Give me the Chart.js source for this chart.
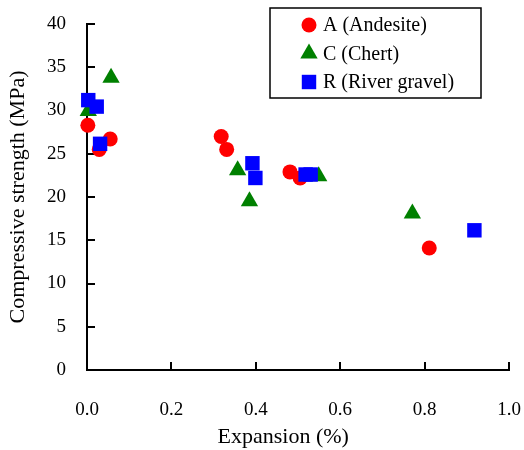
<!DOCTYPE html>
<html>
<head>
<meta charset="utf-8">
<script src="https://cdn.jsdelivr.net/npm/chart.js@4.4.0/dist/chart.umd.min.js"></script>
<style>
  html, body { margin: 0; padding: 0; background: #fff; }
</style>
</head>
<body>
<canvas id="chart" width="524" height="450"></canvas>
<script>
// ----- data -----
const seriesLabels = ['A (Andesite)', 'C (Chert)', 'R (River gravel)'];

const andesiteX = [0.002, 0.029, 0.055, 0.318, 0.331, 0.481, 0.505, 0.811];
const andesiteY = [28.3, 25.5, 26.7, 27.0, 25.5, 22.9, 22.2, 14.1];

const chertX = [0.003, 0.057, 0.357, 0.385, 0.549, 0.771];
const chertY = [29.95, 33.8, 23.1, 19.5, 22.4, 18.1];

const gravelX = [0.003, 0.023, 0.031, 0.392, 0.399, 0.518, 0.530, 0.918];
const gravelY = [31.2, 30.45, 26.15, 23.9, 22.2, 22.6, 22.6, 16.15];

const xTicks = [0, 0.2, 0.4, 0.6, 0.8, 1.0];
const yTicks = [0, 5, 10, 15, 20, 25, 30, 35, 40];

const xTitle = 'Expansion (%)';
const yTitle = 'Compressive strength (MPa)';

const FONT_FAMILY = '"Liberation Serif", "Times New Roman", serif';
const zip = (xs, ys) => xs.map((x, i) => ({ x, y: ys[i] }));

// boxed legend inside the plot + x-axis title (sits a bit left of centre in the original)
const boxLegend = {
  id: 'boxLegend',
  afterDraw(chart, args, opts) {
    const { ctx } = chart;
    ctx.save();
    ctx.strokeStyle = '#000';
    ctx.lineWidth = 1.5;
    ctx.strokeRect(opts.left, opts.top, opts.width, opts.height);
    ctx.font = `${opts.fontSize}px ${FONT_FAMILY}`;
    ctx.textBaseline = 'middle';
    ctx.textAlign = 'left';
    chart.data.datasets.forEach((ds, i) => {
      const y = opts.top + opts.firstRow + i * opts.rowGap;
      ctx.fillStyle = ds.backgroundColor;
      Chart.helpers.drawPoint(ctx, {
        pointStyle: ds.pointStyle, radius: ds.pointRadius, rotation: 0, borderWidth: 0
      }, opts.left + opts.markerX, y);
      ctx.fillStyle = '#000';
      ctx.fillText(ds.label, opts.left + opts.textX, y + 1);
    });

    // x title
    const xs = chart.scales.x;
    ctx.font = `22px ${FONT_FAMILY}`;
    ctx.textAlign = 'center';
    ctx.fillText(xTitle, xs.left + opts.xTitleCenter * xs.width, xs.bottom - 13);
    ctx.restore();
  }
};

const ds = (label, data, color, style, r, order) => ({
  label, data,
  backgroundColor: color,
  borderColor: color,
  borderWidth: 0,
  pointStyle: style,
  pointRadius: r,
  pointHoverRadius: r,
  clip: false,
  order
});

new Chart(document.getElementById('chart'), {
  type: 'scatter',
  data: {
    datasets: [
      ds(seriesLabels[0], zip(andesiteX, andesiteY), '#FF0000', 'circle', 7.5, 3),
      ds(seriesLabels[1], zip(chertX, chertY), '#008000', 'triangle', 10, 2),
      ds(seriesLabels[2], zip(gravelX, gravelY), '#0000FF', 'rect', 10.2, 1)
    ]
  },
  options: {
    responsive: false,
    animation: false,
    layout: { autoPadding: false, padding: { top: 24, right: 15, bottom: 0, left: 0 } },
    plugins: {
      legend: { display: false },
      tooltip: { enabled: false },
      boxLegend: {
        left: 270, top: 8, width: 211, height: 90,
        markerX: 39, textX: 53, firstRow: 17, rowGap: 28.5, fontSize: 20,
        xTitleCenter: 0.465
      }
    },
    scales: {
      x: {
        type: 'linear',
        min: 0, max: 1,
        afterFit: s => { s.height = 80; s.paddingLeft = 0; s.paddingRight = 0; },
        afterBuildTicks: s => { s.ticks = xTicks.map(v => ({ value: v })); },
        border: { display: true, color: '#000', width: 2 },
        grid: { drawOnChartArea: false, color: '#000', lineWidth: 2, tickLength: -8 },
        ticks: {
          color: '#000', padding: 37, maxRotation: 0,
          font: { family: FONT_FAMILY, size: 19 },
          callback: v => v.toFixed(1)
        },
        title: { display: false }
      },
      y: {
        type: 'linear',
        min: 0, max: 40,
        afterFit: s => { s.width = 87; s.paddingTop = 0; s.paddingBottom = 0; },
        afterBuildTicks: s => { s.ticks = yTicks.map(v => ({ value: v })); },
        border: { display: true, color: '#000', width: 2 },
        grid: { drawOnChartArea: false, color: '#000', lineWidth: 2, tickLength: -8 },
        ticks: {
          color: '#000', padding: 29,
          font: { family: FONT_FAMILY, size: 19 }
        },
        title: {
          display: true, text: yTitle, color: '#000',
          font: { family: FONT_FAMILY, size: 22 }, padding: { top: 5, bottom: 0 }
        }
      }
    }
  },
  plugins: [boxLegend]
});
</script>
</body>
</html>
